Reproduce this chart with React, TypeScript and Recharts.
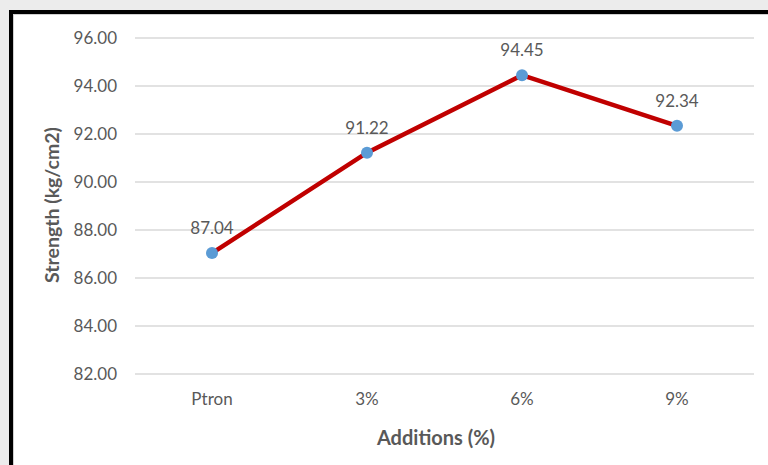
import React from 'react';
import { LineChart, Line, XAxis, YAxis, CartesianGrid, LabelList, Label } from 'recharts';

// Compressive strength per additive dosage
const categories = ['Ptron', '3%', '6%', '9%'];
const strengthValues = [87.04, 91.22, 94.45, 92.34];
const yTicks = [82, 84, 86, 88, 90, 92, 94, 96];

const data = categories.map((name, i) => ({ name, strength: strengthValues[i] }));

const FONT = 'Lato, "Open Sans", sans-serif';
const GREY = '#595959';

export default function App() {
  return (
    <div
      style={{
        position: 'fixed',
        left: 0,
        top: 0,
        width: 768,
        height: 465,
        background: '#ececec',
        overflow: 'hidden',
        fontFamily: FONT,
      }}
    >
      {/* framed white panel */}
      <div
        style={{
          position: 'absolute',
          left: 9,
          top: 10,
          width: 780,
          height: 480,
          background: '#ffffff',
          borderLeft: '4px solid #000',
          borderTop: '4px solid #000',
          boxShadow: 'inset 1px 1px 0 #d0d0d0',
        }}
      />
      <div style={{ position: 'absolute', left: 0, top: 0 }}>
        <LineChart
          width={768}
          height={465}
          data={data}
          margin={{ top: 38, right: 14, bottom: 0, left: 0 }}
        >
          <CartesianGrid vertical={false} stroke="#d9d9d9" strokeWidth={1.3} />
          <XAxis
            dataKey="name"
            axisLine={false}
            tickLine={false}
            tickSize={0}
            tickMargin={19}
            height={91}
            padding={{ left: 77, right: 77 }}
            tick={{ fill: GREY, fontSize: 17, fontFamily: FONT }}
          >
            <Label
              content={() => (
                <text
                  x={436}
                  y={437}
                  textAnchor="middle"
                  dominantBaseline="central"
                  fill={GREY}
                  fontSize={20}
                  fontWeight="bold"
                  fontFamily={FONT}
                >
                  Additions (%)
                </text>
              )}
            />
          </XAxis>
          <YAxis
            domain={[82, 96]}
            ticks={yTicks}
            interval={0}
            width={135}
            axisLine={false}
            tickLine={false}
            tickSize={0}
            tickMargin={18}
            tickFormatter={(v: number) => v.toFixed(2)}
            tick={{ fill: GREY, fontSize: 17, fontFamily: FONT }}
          >
            <Label
              content={() => (
                <text
                  x={51}
                  y={205}
                  transform="rotate(-90 51 205)"
                  textAnchor="middle"
                  dominantBaseline="central"
                  fill={GREY}
                  fontSize={19.5}
                  fontWeight="bold"
                  fontFamily={FONT}
                >
                  Strength (kg/cm2)
                </text>
              )}
            />
          </YAxis>
          <Line
            type="linear"
            dataKey="strength"
            stroke="#C00000"
            strokeWidth={4.5}
            dot={{ r: 6, fill: '#5B9BD5', stroke: 'none' }}
            activeDot={false}
            isAnimationActive={false}
          >
            <LabelList
              dataKey="strength"
              position="top"
              offset={19}
              formatter={(v: number) => v.toFixed(2)}
              style={{ fill: GREY, fontSize: 17, fontFamily: FONT }}
            />
          </Line>
        </LineChart>
      </div>
    </div>
  );
}
